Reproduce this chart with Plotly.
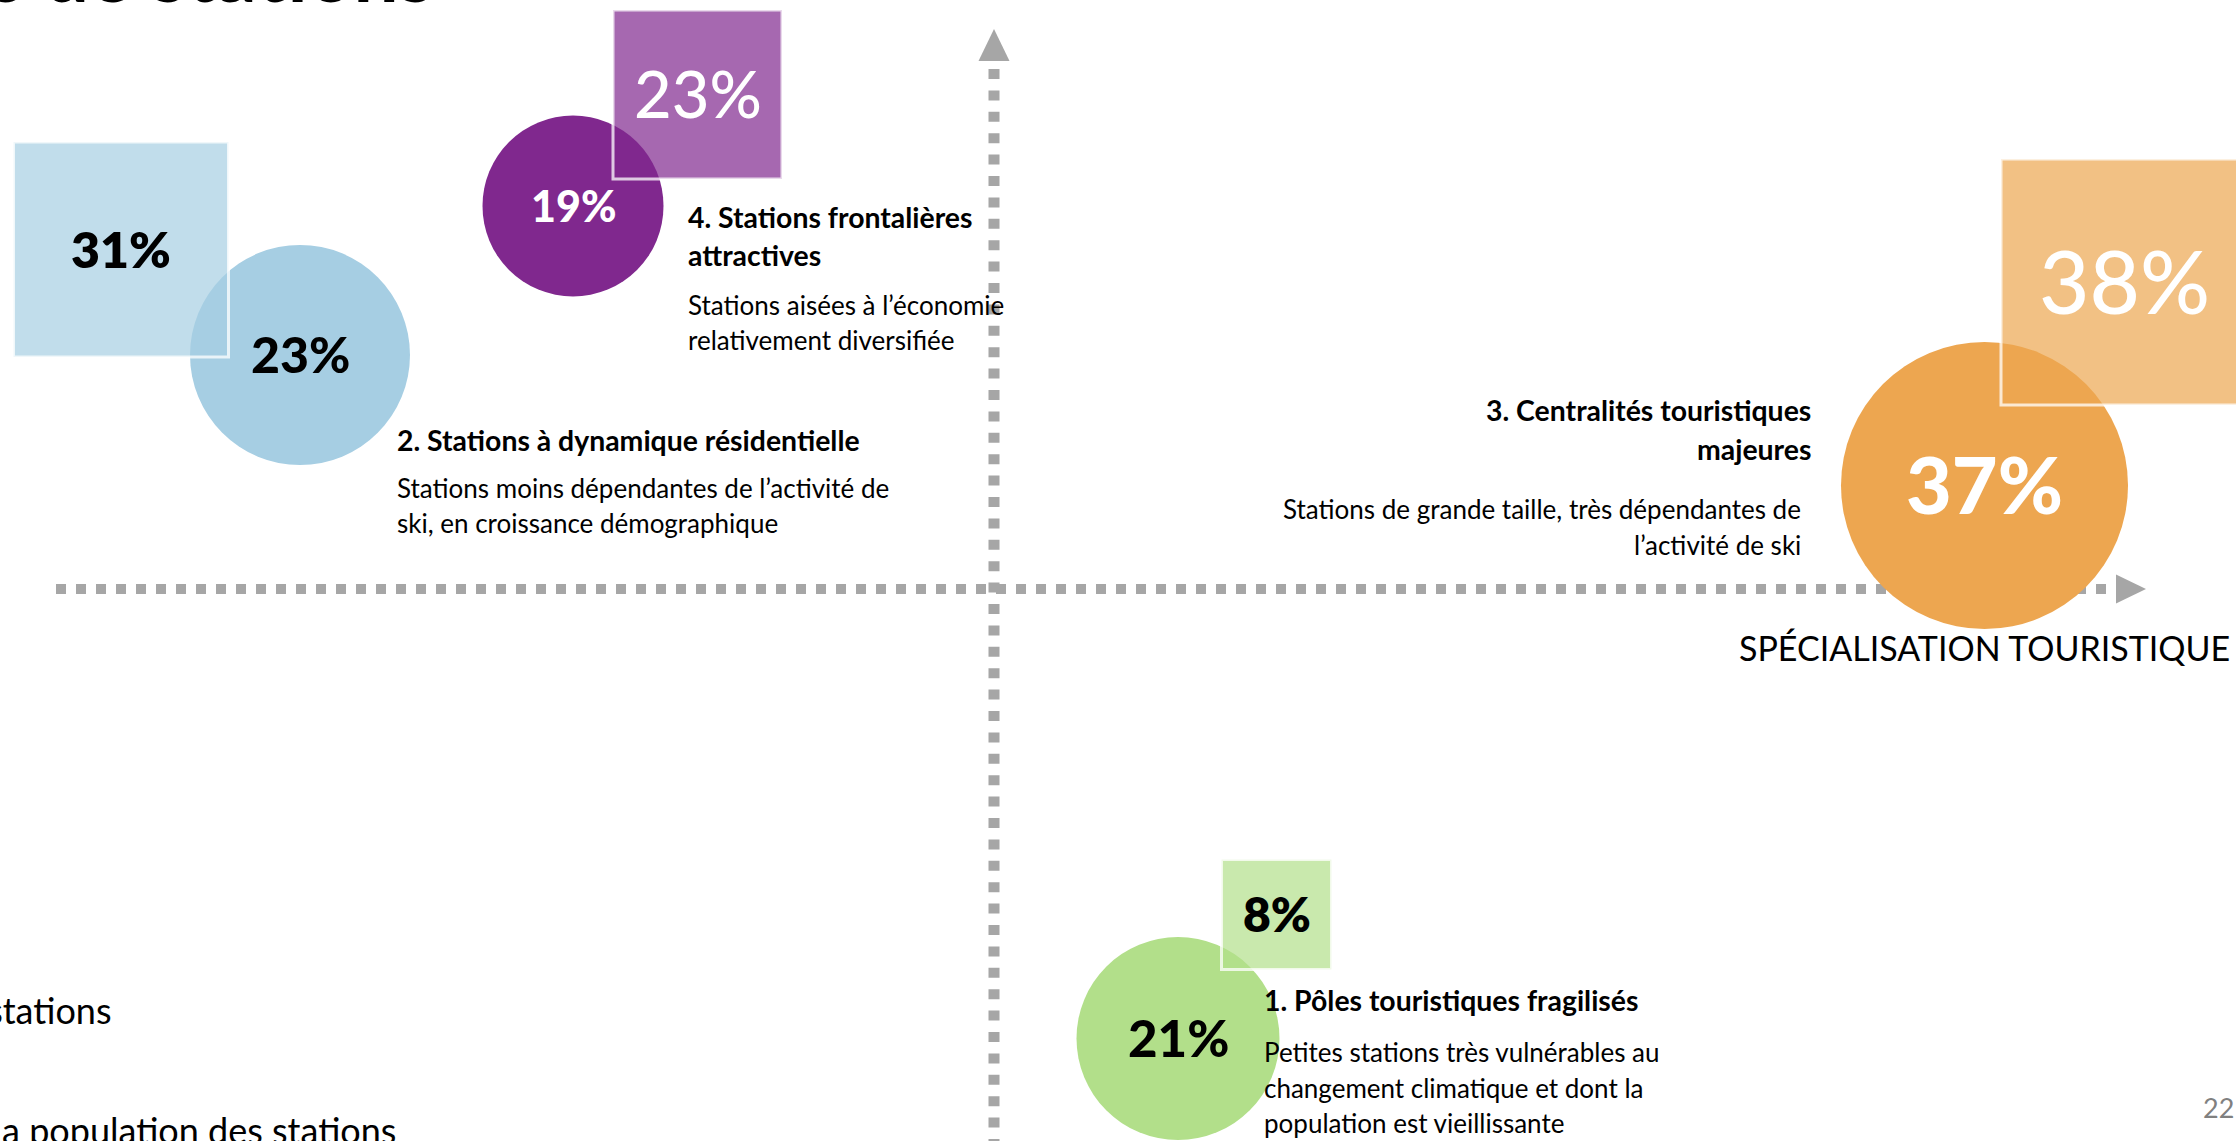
import plotly.graph_objects as go

# ---------------- data ----------------
group_title_lines = [
    ["1. Pôles touristiques fragilisés"],
    ["2. Stations à dynamique résidentielle"],
    ["3. Centralités touristiques", "majeures"],
    ["4. Stations frontalières", "attractives"],
]
group_description_lines = [
    ["Petites stations très vulnérables au", "changement climatique et dont la", "population est vieillissante"],
    ["Stations moins dépendantes de l’activité de", "ski, en croissance démographique"],
    ["Stations de grande taille, très dépendantes de", "l’activité de ski"],
    ["Stations aisées à l’économie", "relativement diversifiée"],
]
share_stations = [21, 23, 37, 19]      # circles (part des stations, %)
share_population = [8, 31, 38, 23]     # squares (part de la population des stations, %)

axis_x_label = "SPÉCIALISATION TOURISTIQUE"
legend_labels = ["Part des stations", "Part de la population des stations"]
slide_title = "Quatre segments de stations"
page_number = "22"

# ---------------- layout (positions in typology space, sizes in px) ----------------
circle_x = [1.84, -6.94, 9.905, -4.21]
circle_y = [-4.495, 2.34, 1.035, 3.83]
circle_d = [203, 220, 287, 181]
square_x = [2.825, -8.73, 11.30, -2.965]
square_y = [-3.255, 3.395, 3.07, 4.945]
square_s = [110, 215, 246, 169]

# (x, y of first line, alignment)
title_pos = [(2.68, -4.11, "left"), (-5.99, 1.495, "left"), (8.19, 1.79, "right"), (-3.08, 3.725, "left")]
desc_pos = [(2.68, -4.63, "left"), (-5.99, 1.015, "left"), (8.09, 0.80, "right"), (-3.08, 2.845, "left")]
TITLE_STEP = 0.385
DESC_STEP = 0.355

# ---------------- styles ----------------
circle_colors = ["rgb(178,223,138)", "rgb(166,206,227)", "rgb(237,166,80)", "rgb(128,40,142)"]
square_colors = ["rgba(178,223,138,0.7)", "rgba(166,206,227,0.7)", "rgba(237,166,80,0.7)", "rgba(128,40,142,0.7)"]
circle_label_color = ["black", "black", "white", "white"]
circle_label_size = [51, 50, 79, 43]
square_label_color = ["black", "black", "white", "white"]
square_label_size = [48, 50, 87, 65]
square_label_weight = [800, 800, 500, 500]

AXIS_GREY = "#a6a6a6"
FONT = "Lato, Inter, Roboto, sans-serif"

X_RANGE = [-9.94, 12.42]
Y_RANGE = [-5.52, 5.89]

fig = go.Figure()

# axes (dashed, with arrowheads)
fig.add_trace(go.Scatter(x=[-9.38, 11.24], y=[0, 0], mode="lines",
                         line=dict(color=AXIS_GREY, width=10, dash="10px,10px"),
                         hoverinfo="skip"))
fig.add_trace(go.Scatter(x=[0, 0], y=[5.20, Y_RANGE[0]], mode="lines",
                         line=dict(color=AXIS_GREY, width=11, dash="10px,11.4px"),
                         hoverinfo="skip"))
fig.add_trace(go.Scatter(x=[11.22, 11.52, 11.22, 11.22], y=[0.145, 0, -0.145, 0.145],
                         mode="lines", fill="toself", fillcolor=AXIS_GREY,
                         line=dict(width=0, color=AXIS_GREY), hoverinfo="skip"))
fig.add_trace(go.Scatter(x=[-0.155, 0, 0.155, -0.155], y=[5.28, 5.60, 5.28, 5.28],
                         mode="lines", fill="toself", fillcolor=AXIS_GREY,
                         line=dict(width=0, color=AXIS_GREY), hoverinfo="skip"))

annotations = []

# circles: share of stations
for i in range(len(share_stations)):
    fig.add_trace(go.Scatter(
        x=[circle_x[i]], y=[circle_y[i]], mode="markers",
        marker=dict(symbol="circle", size=circle_d[i], color=circle_colors[i], line=dict(width=0)),
        hoverinfo="skip"))

# squares: share of population
for i in range(len(share_population)):
    fig.add_trace(go.Scatter(
        x=[square_x[i]], y=[square_y[i]], mode="markers",
        marker=dict(symbol="square", size=square_s[i], color=square_colors[i],
                    line=dict(width=3, color="rgba(255,255,255,0.75)")),
        hoverinfo="skip"))

for i in range(len(share_stations)):
    s = circle_label_size[i]
    annotations.append(dict(x=circle_x[i], y=circle_y[i], xref="x", yref="y",
                            text=f"{share_stations[i]}%", showarrow=False,
                            xanchor="center", yanchor="middle", yshift=0.02 * s,
                            font=dict(family=FONT, size=s, color=circle_label_color[i], weight=900)))
for i in range(len(share_population)):
    s = square_label_size[i]
    annotations.append(dict(x=square_x[i], y=square_y[i], xref="x", yref="y",
                            text=f"{share_population[i]}%", showarrow=False,
                            xanchor="center", yanchor="middle", yshift=0.02 * s,
                            font=dict(family=FONT, size=s, color=square_label_color[i],
                                      weight=square_label_weight[i])))

for i in range(len(group_title_lines)):
    tx, ty, ta = title_pos[i]
    for k, line in enumerate(group_title_lines[i]):
        annotations.append(dict(x=tx, y=ty - k * TITLE_STEP, xref="x", yref="y", text=line,
                                showarrow=False, xanchor=ta, yanchor="middle", align=ta,
                                font=dict(family=FONT, size=28.4, color="black", weight="bold")))
    dx, dy, da = desc_pos[i]
    for k, line in enumerate(group_description_lines[i]):
        annotations.append(dict(x=dx, y=dy - k * DESC_STEP, xref="x", yref="y", text=line,
                                showarrow=False, xanchor=da, yanchor="middle", align=da,
                                font=dict(family=FONT, size=26, color="black")))

annotations.append(dict(x=12.38, y=-0.58, xref="x", yref="y", text=axis_x_label, showarrow=False,
                        xanchor="right", yanchor="middle",
                        font=dict(family=FONT, size=34, color="black")))
annotations.append(dict(x=-8.80, y=-4.21, xref="x", yref="y", text=legend_labels[0], showarrow=False,
                        xanchor="right", yanchor="middle",
                        font=dict(family=FONT, size=36, color="black")))
annotations.append(dict(x=-5.96, y=-5.41, xref="x", yref="y", text=legend_labels[1], showarrow=False,
                        xanchor="right", yanchor="middle",
                        font=dict(family=FONT, size=36, color="black")))
annotations.append(dict(x=12.42, y=-5.18, xref="x", yref="y", text=page_number, showarrow=False,
                        xanchor="right", yanchor="middle",
                        font=dict(family=FONT, size=27, color="#808080")))
annotations.append(dict(x=-5.58, y=5.68, xref="x", yref="y", text=slide_title, showarrow=False,
                        xanchor="right", yanchor="bottom",
                        font=dict(family=FONT, size=80, color="black", weight="bold")))

fig.update_layout(
    width=2236, height=1141, autosize=False,
    margin=dict(l=0, r=0, t=0, b=0, pad=0),
    paper_bgcolor="white", plot_bgcolor="white",
    showlegend=False, hovermode=False,
    xaxis=dict(range=X_RANGE, visible=False, fixedrange=True),
    yaxis=dict(range=Y_RANGE, visible=False, fixedrange=True),
    annotations=annotations,
)

fig.write_html("out.html", config={"displayModeBar": False, "staticPlot": True},
               post_script="document.body.style.margin='0';document.body.style.overflow='hidden';")
